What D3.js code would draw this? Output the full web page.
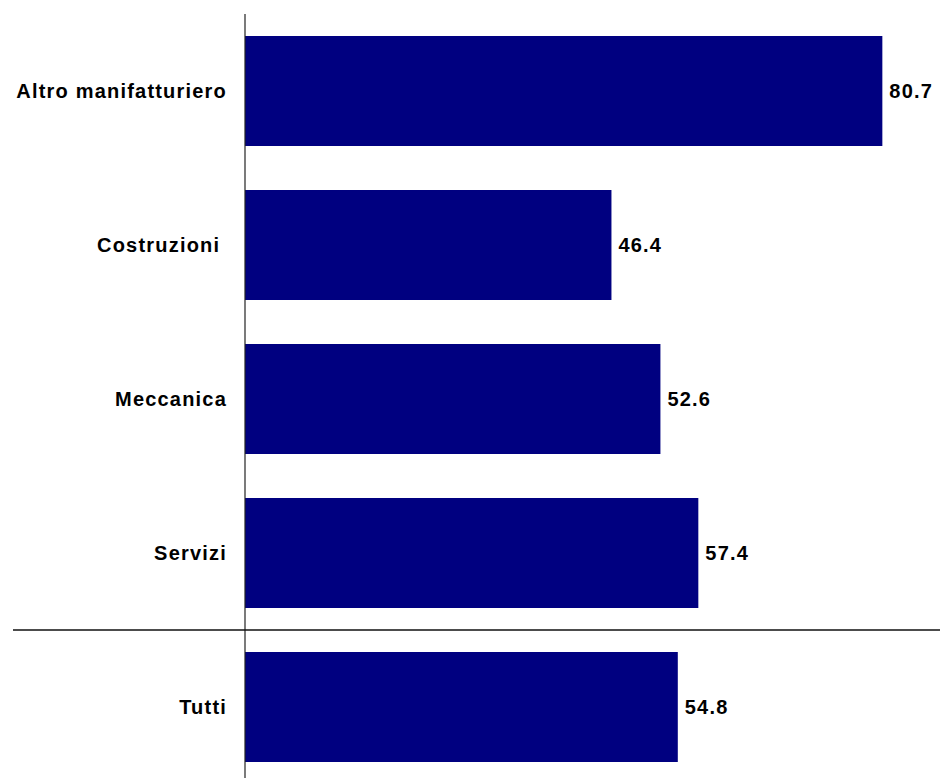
<!DOCTYPE html>
<html>
<head>
<meta charset="utf-8">
<script src="https://cdn.jsdelivr.net/npm/d3@7"></script>
<style>
  html, body { margin: 0; padding: 0; background: #fff; }
  svg { display: block; }
  text { font-family: "Liberation Sans", Arial, sans-serif; font-weight: bold; fill: #000; }
</style>
</head>
<body>
<svg id="chart" width="940" height="778"></svg>
<script>
const categories = ["Altro manifatturiero", "Costruzioni ", "Meccanica", "Servizi", "Tutti"];
const values = [80.7, 46.4, 52.6, 57.4, 54.8];
const valueLabels = ["80.7", "46.4", "52.6", "57.4", "54.8"];

const data = categories.map((c, i) => ({ cat: c, val: values[i], lab: valueLabels[i] }));

const svg = d3.select("#chart");
const axisX = 245;

const x = d3.scaleLinear().domain([0, 88]).range([axisX, 940]);
const y = d3.scaleBand()
  .domain(categories)
  .range([14, 784])
  .paddingInner(44 / 154)
  .paddingOuter(22 / 154);

// bars
svg.append("g").selectAll("rect")
  .data(data)
  .join("rect")
  .attr("x", x(0))
  .attr("y", d => y(d.cat))
  .attr("width", d => x(d.val) - x(0))
  .attr("height", y.bandwidth())
  .attr("fill", "#000080");

// value labels
svg.append("g").selectAll("text")
  .data(data)
  .join("text")
  .attr("x", d => x(d.val) + 7)
  .attr("y", d => y(d.cat) + y.bandwidth() / 2)
  .attr("dy", "0.33em")
  .attr("font-size", 20)
  .attr("letter-spacing", 1.2)
  .text(d => d.lab);

// category labels
svg.append("g").selectAll("text")
  .data(data)
  .join("text")
  .attr("x", 227)
  .attr("y", d => y(d.cat) + y.bandwidth() / 2)
  .attr("dy", "0.33em")
  .attr("text-anchor", "end")
  .attr("font-size", 20)
  .attr("letter-spacing", 1.2)
  .attr("xml:space", "preserve")
  .style("white-space", "pre")
  .text(d => d.cat);

// vertical axis line
svg.append("line")
  .attr("x1", axisX).attr("x2", axisX)
  .attr("y1", 14).attr("y2", 778)
  .attr("stroke", "#222").attr("stroke-width", 1.2);

// separator line between Servizi and Tutti
const sepY = y("Tutti") - (y.step() - y.bandwidth()) / 2;
svg.append("line")
  .attr("x1", 13).attr("x2", 940)
  .attr("y1", sepY).attr("y2", sepY)
  .attr("stroke", "#111").attr("stroke-width", 1.5);
</script>
</body>
</html>
